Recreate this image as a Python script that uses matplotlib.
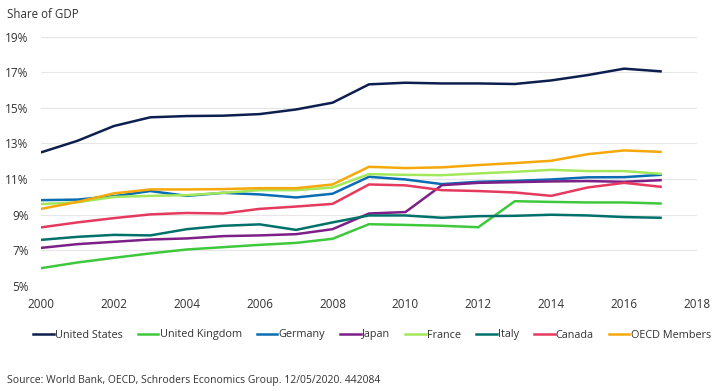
import matplotlib
matplotlib.use("Agg")
import matplotlib.pyplot as plt
from matplotlib.ticker import FuncFormatter

plt.rcParams['font.family'] = ['Open Sans', 'DejaVu Sans']

years = list(range(2000, 2018))

us = [12.5, 13.15, 13.98, 14.47, 14.54, 14.56, 14.65, 14.91, 15.29,
      16.32, 16.41, 16.37, 16.37, 16.34, 16.54, 16.84, 17.2, 17.05]
uk = [6.0, 6.32, 6.58, 6.83, 7.05, 7.18, 7.31, 7.42, 7.65,
      8.47, 8.43, 8.38, 8.3, 9.76, 9.72, 9.69, 9.69, 9.63]
germany = [9.82, 9.85, 10.04, 10.33, 10.06, 10.23, 10.14, 9.97, 10.18,
           11.13, 10.98, 10.72, 10.85, 10.9, 10.98, 11.1, 11.11, 11.24]
japan = [7.14, 7.35, 7.48, 7.61, 7.67, 7.8, 7.84, 7.91, 8.19,
         9.07, 9.15, 10.66, 10.79, 10.83, 10.87, 10.89, 10.85, 10.94]
france = [9.6, 9.7, 10.0, 10.06, 10.1, 10.23, 10.38, 10.38, 10.53,
          11.28, 11.24, 11.22, 11.32, 11.41, 11.52, 11.45, 11.45, 11.3]
italy = [7.59, 7.76, 7.87, 7.84, 8.19, 8.38, 8.46, 8.15, 8.57,
         8.96, 8.96, 8.83, 8.92, 8.94, 9.0, 8.96, 8.87, 8.83]
canada = [8.29, 8.57, 8.81, 9.02, 9.1, 9.07, 9.33, 9.46, 9.61,
          10.7, 10.65, 10.38, 10.33, 10.25, 10.06, 10.53, 10.79, 10.57]
oecd = [9.33, 9.72, 10.2, 10.42, 10.42, 10.44, 10.49, 10.49, 10.7,
        11.69, 11.62, 11.66, 11.79, 11.9, 12.03, 12.4, 12.61, 12.53]

series = [
    ("United States", us, "#0d1f4f"),
    ("United Kingdom", uk, "#3ec93c"),
    ("Germany", germany, "#0a6db3"),
    ("Japan", japan, "#7c1f87"),
    ("France", france, "#a3e85a"),
    ("Italy", italy, "#00716a"),
    ("Canada", canada, "#e6395e"),
    ("OECD Members", oecd, "#f5a80a"),
]

fig = plt.figure(figsize=(7.15, 3.91), dpi=100)
ax = fig.add_axes([41/715, 1-286/391, (697-41)/715, (286-36.6)/391])

for name, vals, col in series:
    ax.plot(years, vals, color=col, lw=1.8, label=name, solid_joinstyle='round')

ax.set_xlim(2000, 2018)
ax.set_ylim(5, 19)
ax.set_xticks(range(2000, 2019, 2))
ax.set_yticks(range(5, 20, 2))
ax.yaxis.set_major_formatter(FuncFormatter(lambda v, p: f"{int(v)}%"))
ax.grid(axis='y', color='#e6e6e6', lw=0.8)
ax.set_axisbelow(True)
for s in ax.spines.values():
    s.set_visible(False)
ax.tick_params(length=0, labelsize=8.5, colors='#333333')
ax.tick_params(axis='x', pad=9)
ax.tick_params(axis='y', pad=9)

fig.text(7/715, 1-15/391, "Share of GDP", fontsize=8.3, color='#333333', va='center')

leg = fig.legend(loc='center', bbox_to_anchor=(372/715, 1-335/391), ncol=8, frameon=False,
                 fontsize=7.8, handlelength=1.9, handletextpad=0.1, columnspacing=1.4,
                 labelcolor='#333333')

fig.text(7/715, 1-380/391, "Source: World Bank, OECD, Schroders Economics Group. 12/05/2020. 442084",
         fontsize=7.5, color='#333333', va='center')

fig.savefig("out.png", dpi=100)
